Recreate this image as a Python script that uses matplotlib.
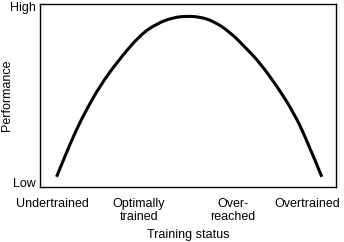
import matplotlib
matplotlib.use("Agg")
import matplotlib.pyplot as plt
from matplotlib.path import Path
from matplotlib.patches import PathPatch

plt.rcParams['font.family'] = ['Liberation Sans', 'DejaVu Sans']

# curve points (x: training status 0-100, y: performance 0-100)
curve_x = [5.6, 9.0, 12.4, 15.8, 20.3, 25.9, 33.8, 39.5, 44.9, 49.7,
           54.1, 58.5, 64.2, 69.9, 74.3, 80.0, 85.6, 90.1, 95.2]
curve_y = [5.6, 19.1, 31.7, 42.6, 55.3, 68.0, 83.1, 89.3, 92.6, 93.4,
           92.9, 90.7, 84.7, 75.4, 67.8, 55.2, 41.0, 25.8, 5.6]

status_pos = [4.1, 33.4, 65.2, 90.2]
status_labels = ['Undertrained', 'Optimally\ntrained', 'Over-\nreached', 'Overtrained']
perf_pos = [2.2, 98.9]
perf_labels = ['Low', 'High']

fig = plt.figure(figsize=(3.44, 2.42), dpi=100)
ax = fig.add_axes([40 / 344, 55 / 242, 296 / 344, 183 / 242])

# smooth the read points with quadratic bezier segments (points act as control points)
pts = list(zip(curve_x, curve_y))
verts = [pts[0]]
codes = [Path.MOVETO]
for i in range(1, len(pts) - 1):
    nxt = pts[i + 1] if i == len(pts) - 2 else ((pts[i][0] + pts[i + 1][0]) / 2,
                                                (pts[i][1] + pts[i + 1][1]) / 2)
    verts += [pts[i], nxt]
    codes += [Path.CURVE3, Path.CURVE3]
ax.add_patch(PathPatch(Path(verts, codes), facecolor='none', edgecolor='black',
                       linewidth=2.2, capstyle='butt'))

ax.set_xlim(0, 100)
ax.set_ylim(0, 100)

ax.set_xticks(status_pos)
ax.set_xticklabels(status_labels, fontsize=9, linespacing=1.1)
ax.set_yticks(perf_pos)
ax.set_yticklabels(perf_labels, fontsize=9)
ax.tick_params(axis='x', length=0, pad=8)
ax.tick_params(axis='y', length=0, pad=3)

ax.set_xlabel('Training status', fontsize=9, labelpad=4)
ax.set_ylabel('Performance', fontsize=9)
ax.yaxis.set_label_coords(-0.092, 0.5)

for s in ax.spines.values():
    s.set_linewidth(1.0)

fig.savefig('out.png', dpi=100)
